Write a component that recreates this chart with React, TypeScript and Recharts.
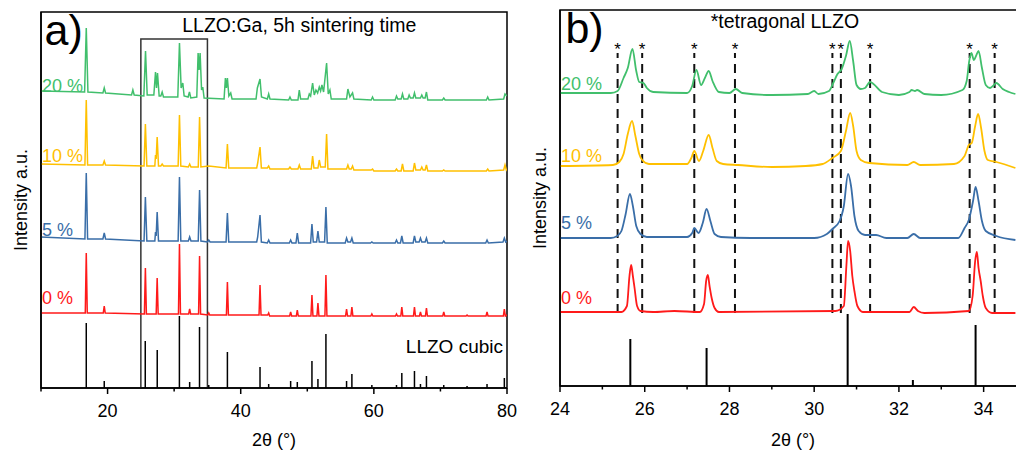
import React from 'react';
import { LineChart, Line, XAxis, YAxis, ReferenceArea, ReferenceLine, ReferenceDot } from 'recharts';

type Pt = [number, number];

const FONT = '"Liberation Sans", Arial, Helvetica, sans-serif';

// sample names and colours, bottom trace first
const samples = ['0 %', '5 %', '10 %', '20 %'];
const colors = ['#ff1a1a', '#3a6ea8', '#ffc000', '#41bf6c'];

// panel a) full scan 10-80°, [2θ, intensity incl. offset]
const wide0: Pt[] = [
  [10, 75], [16.65, 75], [16.8, 135], [16.95, 75], [19.35, 75], [19.5, 82], [19.65, 75],
  [25.53, 74], [25.68, 120], [25.83, 74], [27.3, 74], [27.45, 110], [27.6, 74],
  [30.65, 74], [30.8, 144], [30.95, 74], [32.18, 74], [32.33, 79], [32.48, 74],
  [33.67, 74], [33.82, 132], [33.97, 74], [35.05, 73], [35.2, 75], [35.35, 73],
  [37.85, 73], [38.0, 106], [38.15, 73], [42.75, 73], [42.9, 103], [43.05, 73],
  [44.05, 73], [44.2, 75], [44.35, 72], [47.35, 72], [47.5, 76], [47.65, 72],
  [48.35, 72], [48.5, 78], [48.65, 72], [50.55, 72], [50.7, 93], [50.85, 72],
  [51.45, 72], [51.6, 85], [51.75, 72], [52.65, 72], [52.8, 113], [52.95, 72],
  [55.75, 72], [55.9, 79], [56.05, 72], [56.55, 72], [56.7, 81], [56.85, 72],
  [59.55, 72], [59.7, 74], [59.85, 72], [63.25, 72], [63.4, 74], [63.55, 72],
  [64.05, 72], [64.2, 81], [64.35, 72], [65.95, 72], [66.1, 81], [66.25, 72],
  [66.85, 72], [67.0, 76], [67.15, 72], [67.75, 72], [67.9, 80], [68.05, 72],
  [70.35, 72], [70.5, 76], [70.65, 72], [73.85, 72], [74.0, 73], [74.15, 72],
  [76.85, 72], [77.0, 76], [77.15, 72], [79.45, 72], [79.6, 79], [79.75, 72], [80, 73],
];
const wide5: Pt[] = [
  [10, 151], [16.6, 149], [16.8, 215], [17.0, 149], [19.3, 149], [19.5, 155], [19.7, 149],
  [25.48, 147], [25.68, 191], [25.9, 147], [27.1, 147], [27.2, 156], [27.3, 152], [27.45, 176], [27.65, 147],
  [30.6, 147], [30.8, 211], [31.0, 147], [32.13, 147], [32.33, 151], [32.53, 147],
  [33.62, 147], [33.82, 198], [34.02, 147], [35.0, 146], [35.2, 148], [35.4, 146],
  [37.8, 146], [38.0, 175], [38.2, 146], [42.4, 146], [42.55, 151], [42.9, 173], [43.1, 146],
  [44.0, 145], [44.2, 148], [44.4, 145], [47.3, 145], [47.5, 148], [47.7, 145],
  [48.3, 145], [48.5, 155], [48.7, 145], [50.5, 145], [50.7, 164], [50.9, 146],
  [51.4, 146], [51.6, 157], [51.8, 146], [52.6, 146], [52.8, 181], [53.0, 145],
  [55.7, 145], [55.9, 150], [56.1, 146], [56.5, 146], [56.7, 150], [56.9, 145],
  [59.5, 145], [59.7, 146], [59.9, 145], [63.2, 145], [63.4, 148], [63.6, 145],
  [64.0, 145], [64.2, 152], [64.4, 145], [65.9, 145], [66.1, 152], [66.3, 146],
  [66.8, 146], [67.0, 150], [67.2, 146], [67.7, 146], [67.9, 150], [68.1, 145],
  [70.3, 145], [70.5, 147], [70.7, 145], [76.8, 145], [77.0, 148], [77.2, 145],
  [79.4, 146], [79.6, 150], [79.8, 146], [80, 147],
];
const wide10: Pt[] = [
  [10, 224], [16.6, 223], [16.8, 288], [17.0, 223], [19.3, 223], [19.5, 227], [19.7, 223],
  [25.48, 222], [25.68, 264], [25.9, 222], [27.1, 222], [27.2, 233], [27.3, 229], [27.45, 251], [27.65, 222],
  [28.0, 222], [28.2, 224], [28.4, 222], [30.6, 222], [30.8, 273], [31.0, 222],
  [32.13, 221], [32.33, 224], [32.53, 221], [33.62, 221], [33.82, 271], [34.02, 221],
  [35.2, 222], [37.8, 220], [38.0, 244], [38.2, 220], [42.4, 220], [42.55, 225], [42.9, 241], [43.1, 220],
  [44.0, 220], [44.2, 222], [44.4, 219], [47.2, 219], [47.4, 221], [47.6, 219],
  [48.6, 219], [48.8, 223], [49.0, 219], [50.6, 219], [50.8, 232], [51.0, 220],
  [51.6, 220], [51.8, 228], [52.0, 221], [52.7, 221], [52.9, 254], [53.1, 219],
  [55.9, 219], [56.1, 223], [56.3, 219], [56.6, 219], [56.8, 222], [57.0, 218],
  [59.6, 218], [59.8, 219], [60.0, 217], [63.2, 217], [63.4, 219], [63.6, 217],
  [64.1, 217], [64.3, 224], [64.5, 217], [65.9, 217], [66.1, 225], [66.3, 218],
  [67.0, 218], [67.2, 221], [67.4, 218], [67.7, 218], [67.9, 223], [68.1, 217],
  [70.3, 217], [70.5, 218], [70.7, 217], [76.9, 217], [77.1, 219], [77.3, 217],
  [79.5, 218], [79.7, 223], [79.9, 218], [80, 219],
];
const wide20: Pt[] = [
  [10, 297], [16.55, 296], [16.8, 360], [17.05, 296], [19.3, 295], [19.5, 300], [19.7, 295],
  [23.6, 293], [23.8, 298], [24.0, 293], [25.45, 292], [25.7, 337], [25.95, 293],
  [26.95, 293], [27.2, 316], [27.35, 300], [27.5, 315], [27.75, 292], [28.0, 292], [28.2, 296], [28.4, 291],
  [30.55, 291], [30.8, 345], [31.05, 300], [31.3, 305], [31.5, 292], [32.1, 291], [32.3, 296], [32.5, 290],
  [33.4, 291], [33.6, 335], [33.75, 318], [33.9, 335], [34.12, 298], [34.3, 301], [34.5, 290],
  [37.5, 289], [37.7, 310], [37.85, 300], [38.0, 310], [38.22, 292], [38.5, 295], [38.7, 289],
  [42.3, 289], [42.5, 300], [42.9, 309], [43.12, 291], [44.0, 289], [44.2, 294], [44.4, 289],
  [47.2, 288], [47.4, 291], [47.6, 288], [48.6, 288], [48.8, 298], [49.0, 289],
  [50.1, 289], [50.3, 294], [50.5, 292], [50.8, 305], [51.05, 293], [51.3, 298], [51.55, 295],
  [51.8, 301], [52.0, 297], [52.2, 303], [52.45, 296], [52.9, 325], [53.15, 294], [53.4, 298], [53.6, 289],
  [55.9, 289], [56.1, 299], [56.4, 291], [56.8, 295], [57.0, 289], [59.6, 288], [59.8, 291], [60.0, 288],
  [63.2, 288], [63.4, 292], [63.6, 289], [64.1, 289], [64.3, 294], [64.5, 289],
  [65.1, 289], [65.3, 293], [65.5, 290], [65.9, 290], [66.1, 295], [66.3, 290],
  [67.0, 290], [67.2, 293], [67.4, 290], [67.7, 290], [67.9, 296], [68.1, 288],
  [70.3, 288], [70.5, 290], [70.7, 288], [76.9, 288], [77.1, 291], [77.3, 288],
  [79.5, 289], [79.7, 294], [80, 292],
];

// panel b) zoom 24-35°
const zoom0: Pt[] = [
  [24, 74], [25.45, 74], [25.58, 80], [25.64, 110], [25.68, 121], [25.72, 110], [25.76, 98], [25.82, 80], [25.9, 75],
  [26.2, 74], [26.7, 75], [27.3, 74], [27.4, 82], [27.45, 105], [27.49, 111], [27.53, 100], [27.58, 88], [27.65, 78], [27.75, 74],
  [30.5, 75], [30.7, 80], [30.76, 120], [30.8, 145], [30.85, 135], [30.9, 110], [30.95, 95], [31.02, 80], [31.15, 74],
  [32.25, 74], [32.35, 79], [32.45, 75], [32.6, 73], [33.65, 75], [33.74, 90], [33.8, 125], [33.84, 134], [33.88, 118],
  [33.93, 105], [33.98, 90], [34.05, 78], [34.2, 73], [34.75, 73],
];
const zoom5: Pt[] = [
  [24, 148], [25.2, 148], [25.35, 150], [25.45, 155], [25.55, 172], [25.65, 192], [25.72, 180], [25.8, 160], [25.9, 152], [26.05, 149],
  [27.0, 149], [27.12, 153], [27.17, 158], [27.27, 153], [27.37, 163], [27.46, 177], [27.55, 165], [27.65, 152], [27.8, 149],
  [28.5, 148], [30.0, 148], [30.3, 152], [30.43, 157], [30.6, 165], [30.7, 180], [30.8, 212], [30.87, 200], [30.95, 170],
  [31.05, 155], [31.2, 151], [31.46, 151], [31.7, 148], [32.2, 148], [32.35, 152], [32.5, 148], [33.4, 148], [33.55, 158],
  [33.65, 166], [33.75, 185], [33.81, 199], [33.88, 185], [33.96, 165], [34.05, 155], [34.3, 150], [34.75, 146],
];
const zoom10: Pt[] = [
  [24, 220], [25.25, 221], [25.4, 224], [25.5, 232], [25.6, 252], [25.7, 265], [25.78, 250], [25.87, 232], [25.94, 226], [26.1, 222],
  [27.0, 222], [27.1, 228], [27.17, 235], [27.28, 225], [27.38, 235], [27.51, 251], [27.6, 238], [27.7, 225], [27.85, 222],
  [28.2, 221], [29.0, 219], [29.8, 220], [30.2, 222], [30.43, 228], [30.63, 235], [30.75, 255], [30.85, 273], [30.92, 260],
  [31.0, 235], [31.1, 226], [31.3, 223], [32.2, 221], [32.35, 224], [32.5, 221], [33.3, 222], [33.55, 230], [33.65, 241],
  [33.72, 243], [33.8, 260], [33.87, 272], [33.94, 258], [34.02, 235], [34.1, 226], [34.3, 224], [34.75, 218],
];
const zoom20: Pt[] = [
  [24, 293], [25.2, 293], [25.36, 295], [25.5, 308], [25.6, 318], [25.71, 337], [25.8, 315], [25.87, 304], [25.97, 303],
  [26.05, 298], [26.2, 294], [27.0, 293], [27.12, 300], [27.22, 316], [27.33, 301], [27.42, 308], [27.51, 315], [27.6, 305],
  [27.75, 294], [28.0, 293], [28.15, 297], [28.3, 293], [29.0, 291], [29.85, 292], [30.0, 295], [30.1, 292], [30.35, 295],
  [30.45, 303], [30.55, 312], [30.65, 317], [30.75, 330], [30.84, 345], [30.92, 325], [31.0, 301], [31.1, 297], [31.2, 298],
  [31.32, 304], [31.4, 302], [31.6, 294], [32.0, 291], [32.25, 294], [32.3, 296], [32.38, 295], [32.43, 296], [32.6, 292],
  [33.0, 291], [33.5, 296], [33.6, 305], [33.66, 325], [33.71, 333], [33.77, 326], [33.82, 330], [33.88, 335], [33.96, 318],
  [34.05, 301], [34.15, 298], [34.22, 300], [34.3, 303], [34.45, 297], [34.6, 294], [34.75, 292],
];

// LLZO cubic reference pattern [2θ, stick height]
const cubicRef: Pt[] = [
  [16.8, 65], [19.5, 7], [25.66, 47], [27.46, 38], [30.79, 72], [32.33, 6], [33.81, 61], [35.2, 3],
  [38.0, 36], [42.9, 21], [44.2, 4], [47.5, 7], [48.5, 6], [50.7, 27], [51.6, 9], [52.8, 54],
  [55.9, 7], [56.7, 14], [59.7, 3], [63.4, 3], [64.2, 15], [66.1, 17], [67.0, 4], [67.9, 12],
  [70.5, 3], [74.0, 2], [77.0, 4], [79.6, 10],
];

// tetragonal LLZO reflections marked with *
const tetragonal = [25.36, 25.94, 27.17, 28.13, 30.43, 30.63, 31.32, 33.67, 34.26];

const ticksA = [10, 20, 30, 40, 50, 60, 70, 80];
const majorA = [20, 40, 60, 80];
const ticksB = [24, 25, 26, 27, 28, 29, 30, 31, 32, 33, 34, 35];
const majorB = [24, 26, 28, 30, 32, 34];

// height of the sample names, bottom trace first
const labelYA = [90, 158, 232, 302];
const labelYB = [88, 163, 230, 302];

const wideSets = [wide0, wide5, wide10, wide20];
const zoomSets = [zoom0, zoom5, zoom10, zoom20];

const pts = (a: Pt[]) => a.map(([t, i]) => ({ t, i }));

const axisStyle = { stroke: '#000', strokeWidth: 1.5 };

// ticks: long + label for majors, short for minors
const axisTick = (majors: number[]) => (props: any) => {
  const { x, y, payload } = props;
  const base = y - 10;
  const major = majors.includes(payload.value);
  return (
    <g>
      <line x1={x} x2={x} y1={base} y2={base + (major ? 6 : 3.5)} stroke="#000" strokeWidth={1.5} />
      {major ? (
        <text x={x} y={base + 29} textAnchor="middle" fontSize={18} fill="#000">
          {payload.value}
        </text>
      ) : null}
    </g>
  );
};

const PanelA = () => (
  <LineChart width={520} height={452} margin={{ top: 12, right: 13, bottom: 0, left: 0 }}>
    <XAxis
      type="number" dataKey="t" domain={[10, 80]} allowDataOverflow ticks={ticksA} interval={0} height={64}
      axisLine={axisStyle} tickLine={false} tickSize={6} tickMargin={4} tick={axisTick(majorA)}
      label={{ value: '2θ (°)', position: 'insideBottom', offset: 6, fill: '#000', fontSize: 18 }}
    />
    <YAxis
      type="number" domain={[0, 376]} allowDataOverflow width={41} tick={false} tickLine={false} axisLine={axisStyle}
      label={{ value: 'Intensity a.u.', angle: -90, position: 'center', fill: '#000', fontSize: 18 }}
    />
    <ReferenceArea x1={10} x2={80} y1={0} y2={376} fill="none" stroke="#000" strokeWidth={1.5} />
    <ReferenceArea x1={25} x2={35} y1={0} y2={349} fill="none" stroke="#333" strokeWidth={1.5} />
    {cubicRef.map(([t, h]) => (
      <ReferenceLine key={t} segment={[{ x: t, y: 0 }, { x: t, y: h }]} stroke="#000" strokeWidth={1.5} />
    ))}
    {wideSets.map((d, k) => (
      <Line key={k} data={pts(d)} dataKey="i" type="linear" stroke={colors[k]} strokeWidth={1.5}
        dot={false} isAnimationActive={false} />
    ))}
    {samples.map((s, k) => (
      <ReferenceDot key={s} x={10} y={labelYA[k]} r={0}
        label={{ value: s, position: 'right', offset: 1, fill: colors[k], fontSize: 18 }} />
    ))}
    <ReferenceDot x={13.4} y={358} r={0} label={{ value: 'a)', position: 'center', fill: '#000', fontSize: 43 }} />
    <ReferenceDot x={48.8} y={363} r={0}
      label={{ value: 'LLZO:Ga, 5h sintering time', position: 'center', fill: '#000', fontSize: 19.5 }} />
    <ReferenceDot x={72.1} y={42} r={0} label={{ value: 'LLZO cubic', position: 'center', fill: '#000', fontSize: 19 }} />
  </LineChart>
);

const PanelB = () => (
  <LineChart width={511} height={452} margin={{ top: 10, right: 5, bottom: 0, left: 0 }}>
    <XAxis
      type="number" dataKey="t" domain={[24, 35]} allowDataOverflow ticks={ticksB} interval={0} height={66}
      axisLine={axisStyle} tickLine={false} tickSize={6} tickMargin={4} tick={axisTick(majorB)}
      label={{ value: '2θ (°)', position: 'insideBottom', offset: 6, fill: '#000', fontSize: 18 }}
    />
    <YAxis
      type="number" domain={[0, 376]} allowDataOverflow width={40} tick={false} tickLine={false} axisLine={axisStyle}
      label={{ value: 'Intensity a.u.', angle: -90, position: 'center', fill: '#000', fontSize: 18 }}
    />
    <ReferenceArea x1={24} x2={35} y1={0} y2={376} fill="none" stroke="#000" strokeWidth={1.5} />
    {cubicRef.filter(([t]) => t >= 24 && t <= 35).map(([t, h]) => (
      <ReferenceLine key={t} segment={[{ x: t, y: 0 }, { x: t, y: h }]} stroke="#000" strokeWidth={2} />
    ))}
    {tetragonal.map((t) => (
      <ReferenceLine key={t} segment={[{ x: t, y: 73 }, { x: t, y: 333 }]} stroke="#111" strokeWidth={2}
        strokeDasharray="9 6"
        label={{ value: '*', position: 'top', offset: -2, fill: '#000', fontSize: 17 }} />
    ))}
    {zoomSets.map((d, k) => (
      <Line key={k} data={pts(d)} dataKey="i" type="monotone" stroke={colors[k]} strokeWidth={1.8}
        dot={false} isAnimationActive={false} />
    ))}
    {samples.map((s, k) => (
      <ReferenceDot key={s} x={24} y={labelYB[k]} r={0}
        label={{ value: s, position: 'right', offset: 1, fill: colors[k], fontSize: 18 }} />
    ))}
    <ReferenceDot x={24.58} y={358} r={0} label={{ value: 'b)', position: 'center', fill: '#000', fontSize: 43 }} />
    <ReferenceDot x={29.31} y={365} r={0}
      label={{ value: '*tetragonal LLZO', position: 'center', fill: '#000', fontSize: 19.5 }} />
  </LineChart>
);

export default function App() {
  return (
    <div style={{ position: 'absolute', left: 0, top: 0, width: 1016, height: 452, overflow: 'hidden', background: '#fff', fontFamily: FONT }}>
      <div style={{ position: 'absolute', left: 0, top: 0 }}>
        <PanelA />
      </div>
      <div style={{ position: 'absolute', left: 520, top: 0 }}>
        <PanelB />
      </div>
    </div>
  );
}
